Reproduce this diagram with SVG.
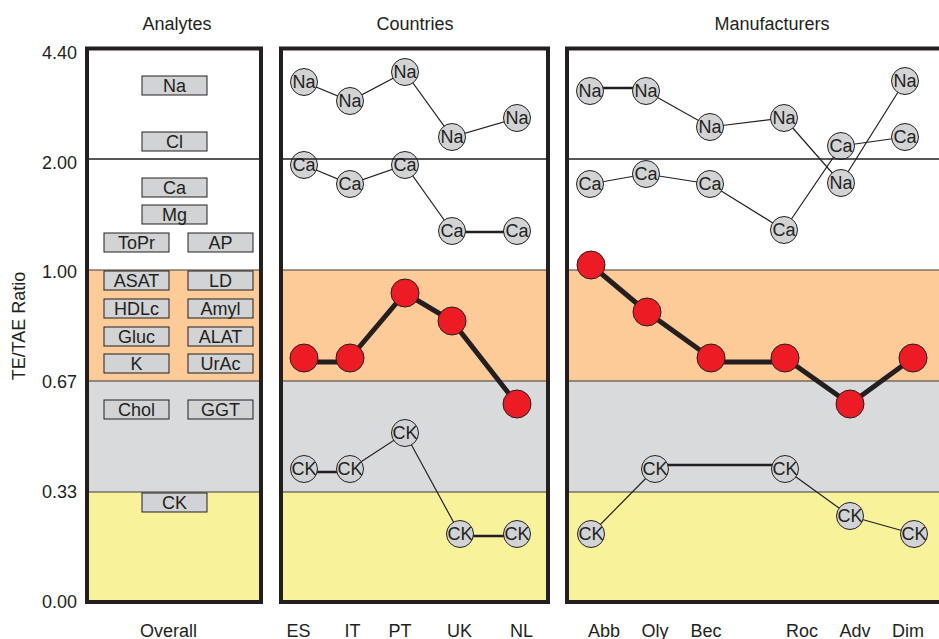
<svg xmlns="http://www.w3.org/2000/svg" width="939" height="639" viewBox="0 0 939 639">
<style>
text{font-family:"Liberation Sans",Arial,sans-serif;fill:#231f20;font-size:18px}
.c{text-anchor:middle}
.r{text-anchor:end}
.frame{fill:none;stroke:#231f20;stroke-width:4}
.band{stroke:#3a3a3a;stroke-width:1.2}
.hl{stroke:#231f20;stroke-width:1.3}
.thin{stroke:#231f20;stroke-width:1.2;fill:none}
.mid{stroke:#231f20;stroke-width:2.6;fill:none}
.thick{stroke:#231f20;stroke-width:5;fill:none}
.box{fill:#d1d3d4;stroke:#231f20;stroke-width:1}
.g{fill:#d1d3d4;stroke:#231f20;stroke-width:1}
.red{fill:#ed1c24;stroke:#231f20;stroke-width:1}
.wh{fill:#ffffff}.or{fill:#fdcb97}.gr{fill:#d9dadc}.ye{fill:#f8f39b}
</style>

<g id="titles">
<text class="c" x="177" y="30">Analytes</text>
<text class="c" x="415" y="30">Countries</text>
<text class="c" x="772" y="30">Manufacturers</text>
</g>

<g id="axis">
<text class="r" x="77" y="59">4.40</text>
<text class="r" x="77" y="169">2.00</text>
<text class="r" x="77" y="277.5">1.00</text>
<text class="r" x="77" y="387.5">0.67</text>
<text class="r" x="77" y="497.5">0.33</text>
<text class="r" x="77" y="608">0.00</text>
<text class="c" transform="translate(25,326) rotate(-90)">TE/TAE Ratio</text>
</g>

<g id="backgrounds">
<rect class="wh" x="87" y="48" width="174" height="222"/>
<rect class="or" x="87" y="270" width="174" height="111"/>
<rect class="gr" x="87" y="381" width="174" height="111"/>
<rect class="ye" x="87" y="492" width="174" height="110"/>
<rect class="wh" x="281" y="48" width="267" height="222"/>
<rect class="or" x="281" y="270" width="267" height="111"/>
<rect class="gr" x="281" y="381" width="267" height="111"/>
<rect class="ye" x="281" y="492" width="267" height="110"/>
<rect class="wh" x="567" y="48" width="390" height="222"/>
<rect class="or" x="567" y="270" width="390" height="111"/>
<rect class="gr" x="567" y="381" width="390" height="111"/>
<rect class="ye" x="567" y="492" width="390" height="110"/>
<path class="band" d="M87 270H261M87 381H261M87 492H261M281 270H548M281 381H548M281 492H548M567 270H957M567 381H957M567 492H957"/>
</g>

<g id="analytes">
<g id="a-Na"><rect class="box" x="142" y="76" width="65" height="19"/><text class="c" x="174.5" y="92">Na</text></g>
<g id="a-Cl"><rect class="box" x="142" y="132" width="65" height="19"/><text class="c" x="174.5" y="148">Cl</text></g>
<g id="a-Ca"><rect class="box" x="142" y="178" width="65" height="19"/><text class="c" x="174.5" y="194">Ca</text></g>
<g id="a-Mg"><rect class="box" x="142" y="205" width="65" height="19"/><text class="c" x="174.5" y="221">Mg</text></g>
<g id="a-ToPr"><rect class="box" x="104" y="233" width="65" height="19"/><text class="c" x="136.5" y="249">ToPr</text></g>
<g id="a-AP"><rect class="box" x="188" y="233" width="65" height="19"/><text class="c" x="220.5" y="249">AP</text></g>
<g id="a-ASAT"><rect class="box" x="104" y="271" width="65" height="19"/><text class="c" x="136.5" y="287">ASAT</text></g>
<g id="a-LD"><rect class="box" x="188" y="271" width="65" height="19"/><text class="c" x="220.5" y="287">LD</text></g>
<g id="a-HDLc"><rect class="box" x="104" y="299" width="65" height="19"/><text class="c" x="136.5" y="315">HDLc</text></g>
<g id="a-Amyl"><rect class="box" x="188" y="299" width="65" height="19"/><text class="c" x="220.5" y="315">Amyl</text></g>
<g id="a-Gluc"><rect class="box" x="104" y="327" width="65" height="19"/><text class="c" x="136.5" y="343">Gluc</text></g>
<g id="a-ALAT"><rect class="box" x="188" y="327" width="65" height="19"/><text class="c" x="220.5" y="343">ALAT</text></g>
<g id="a-K"><rect class="box" x="104" y="354" width="65" height="19"/><text class="c" x="136.5" y="370">K</text></g>
<g id="a-UrAc"><rect class="box" x="188" y="354" width="65" height="19"/><text class="c" x="220.5" y="370">UrAc</text></g>
<g id="a-Chol"><rect class="box" x="104" y="400" width="65" height="19"/><text class="c" x="136.5" y="416">Chol</text></g>
<g id="a-GGT"><rect class="box" x="188" y="400" width="65" height="19"/><text class="c" x="220.5" y="416">GGT</text></g>
<g id="a-CK"><rect class="box" x="142" y="493" width="65" height="19"/><text class="c" x="174.5" y="509">CK</text></g>
</g>

<g id="connectors">
<!-- Countries -->
<path class="thin" d="M304 82L350 101L405 72L452 137L517 118"/>
<path class="thin" d="M304 165L350 184L405 165L452 231"/>
<path class="mid" d="M452 232H517"/>
<path class="thick" d="M304 362H350M350 358L405 293L452 321L517 404"/>
<path class="mid" d="M304 472H350"/>
<path class="thin" d="M350 469L405 433L460 534"/>
<path class="mid" d="M460 536H517"/>
<!-- Manufacturers -->
<path class="mid" d="M590 88H646"/>
<path class="thin" d="M646 91L710 127L784 118L841 183L905 81"/>
<path class="thin" d="M590 184L646 174L710 184L784 230L841 146L905 137"/>
<path class="thick" d="M591 265L647 312L711 358M711 362H785M785 358L850 404L913 358"/>
<path class="thin" d="M591 534L655 469"/>
<path class="mid" d="M655 465H785"/>
<path class="thin" d="M785 469L850 516L914 534"/>
</g>

<g id="countries-nodes">
<g id="c-Na-ES"><circle class="g" cx="304" cy="82" r="13.5"/><text class="c" x="304" y="88.4">Na</text></g>
<g id="c-Na-IT"><circle class="g" cx="350" cy="101" r="13.5"/><text class="c" x="350" y="107.4">Na</text></g>
<g id="c-Na-PT"><circle class="g" cx="405" cy="72" r="13.5"/><text class="c" x="405" y="78.4">Na</text></g>
<g id="c-Na-UK"><circle class="g" cx="452" cy="137" r="13.5"/><text class="c" x="452" y="143.4">Na</text></g>
<g id="c-Na-NL"><circle class="g" cx="517" cy="118" r="13.5"/><text class="c" x="517" y="124.4">Na</text></g>
<g id="c-Ca-ES"><circle class="g" cx="304" cy="165" r="13.5"/><text class="c" x="304" y="171.4">Ca</text></g>
<g id="c-Ca-IT"><circle class="g" cx="350" cy="184" r="13.5"/><text class="c" x="350" y="190.4">Ca</text></g>
<g id="c-Ca-PT"><circle class="g" cx="405" cy="165" r="13.5"/><text class="c" x="405" y="171.4">Ca</text></g>
<g id="c-Ca-UK"><circle class="g" cx="452" cy="231" r="13.5"/><text class="c" x="452" y="237.4">Ca</text></g>
<g id="c-Ca-NL"><circle class="g" cx="517" cy="231" r="13.5"/><text class="c" x="517" y="237.4">Ca</text></g>
<g id="c-R-ES"><circle class="red" cx="304" cy="358" r="14"/></g>
<g id="c-R-IT"><circle class="red" cx="350" cy="358" r="14"/></g>
<g id="c-R-PT"><circle class="red" cx="405" cy="293" r="14"/></g>
<g id="c-R-UK"><circle class="red" cx="452" cy="321" r="14"/></g>
<g id="c-R-NL"><circle class="red" cx="517" cy="404" r="14"/></g>
<g id="c-CK-ES"><circle class="g" cx="304" cy="469" r="13.5"/><text class="c" x="304" y="475.4">CK</text></g>
<g id="c-CK-IT"><circle class="g" cx="350" cy="469" r="13.5"/><text class="c" x="350" y="475.4">CK</text></g>
<g id="c-CK-PT"><circle class="g" cx="405" cy="433" r="13.5"/><text class="c" x="405" y="439.4">CK</text></g>
<g id="c-CK-UK"><circle class="g" cx="460" cy="534" r="13.5"/><text class="c" x="460" y="540.4">CK</text></g>
<g id="c-CK-NL"><circle class="g" cx="517" cy="534" r="13.5"/><text class="c" x="517" y="540.4">CK</text></g>
</g>

<g id="manufacturers-nodes">
<g id="m-Na-Abb"><circle class="g" cx="590" cy="91" r="13.5"/><text class="c" x="590" y="97.4">Na</text></g>
<g id="m-Na-Oly"><circle class="g" cx="646" cy="91" r="13.5"/><text class="c" x="646" y="97.4">Na</text></g>
<g id="m-Na-Bec"><circle class="g" cx="710" cy="127" r="13.5"/><text class="c" x="710" y="133.4">Na</text></g>
<g id="m-Na-Roc"><circle class="g" cx="784" cy="118" r="13.5"/><text class="c" x="784" y="124.4">Na</text></g>
<g id="m-Na-Adv"><circle class="g" cx="841" cy="183" r="13.5"/><text class="c" x="841" y="189.4">Na</text></g>
<g id="m-Na-Dim"><circle class="g" cx="905" cy="81" r="13.5"/><text class="c" x="905" y="87.4">Na</text></g>
<g id="m-Ca-Abb"><circle class="g" cx="590" cy="184" r="13.5"/><text class="c" x="590" y="190.4">Ca</text></g>
<g id="m-Ca-Oly"><circle class="g" cx="646" cy="174" r="13.5"/><text class="c" x="646" y="180.4">Ca</text></g>
<g id="m-Ca-Bec"><circle class="g" cx="710" cy="184" r="13.5"/><text class="c" x="710" y="190.4">Ca</text></g>
<g id="m-Ca-Roc"><circle class="g" cx="784" cy="230" r="13.5"/><text class="c" x="784" y="236.4">Ca</text></g>
<g id="m-Ca-Adv"><circle class="g" cx="841" cy="146" r="13.5"/><text class="c" x="841" y="152.4">Ca</text></g>
<g id="m-Ca-Dim"><circle class="g" cx="905" cy="137" r="13.5"/><text class="c" x="905" y="143.4">Ca</text></g>
<g id="m-R-Abb"><circle class="red" cx="591" cy="265" r="14"/></g>
<g id="m-R-Oly"><circle class="red" cx="647" cy="312" r="14"/></g>
<g id="m-R-Bec"><circle class="red" cx="711" cy="358" r="14"/></g>
<g id="m-R-Roc"><circle class="red" cx="785" cy="358" r="14"/></g>
<g id="m-R-Adv"><circle class="red" cx="850" cy="404" r="14"/></g>
<g id="m-R-Dim"><circle class="red" cx="913" cy="358" r="14"/></g>
<g id="m-CK-Abb"><circle class="g" cx="591" cy="534" r="13.5"/><text class="c" x="591" y="540.4">CK</text></g>
<g id="m-CK-Oly"><circle class="g" cx="655" cy="469" r="13.5"/><text class="c" x="655" y="475.4">CK</text></g>
<g id="m-CK-Roc"><circle class="g" cx="785" cy="469" r="13.5"/><text class="c" x="785" y="475.4">CK</text></g>
<g id="m-CK-Adv"><circle class="g" cx="850" cy="516" r="13.5"/><text class="c" x="850" y="522.4">CK</text></g>
<g id="m-CK-Dim"><circle class="g" cx="914" cy="534" r="13.5"/><text class="c" x="914" y="540.4">CK</text></g>
</g>

<g id="frames">
<path class="hl" d="M87 159H261M281 159H548M567 159H957"/>
<rect class="frame" x="87" y="48.5" width="174" height="553.5"/>
<rect class="frame" x="281" y="48.5" width="267" height="553.5"/>
<rect class="frame" x="567" y="48.5" width="400" height="553.5"/>
</g>

<g id="labels">
<text class="c" x="168.5" y="636.5">Overall</text>
<text class="c" x="298.5" y="636.5">ES</text>
<text class="c" x="352.5" y="636.5">IT</text>
<text class="c" x="400" y="636.5">PT</text>
<text class="c" x="459.5" y="636.5">UK</text>
<text class="c" x="521.5" y="636.5">NL</text>
<text class="c" x="604" y="636.5">Abb</text>
<text class="c" x="655" y="636.5">Oly</text>
<text class="c" x="706" y="636.5">Bec</text>
<text class="c" x="802" y="636.5">Roc</text>
<text class="c" x="855" y="636.5">Adv</text>
<text class="c" x="908" y="636.5">Dim</text>
</g>
</svg>
